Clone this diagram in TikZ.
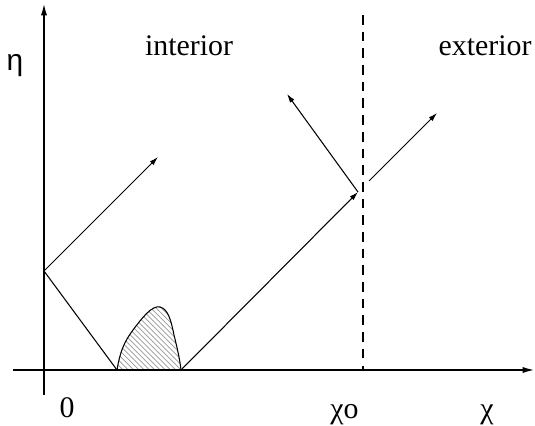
\documentclass[tikz,border=0pt]{standalone}
\usepackage{fontspec}
\setmainfont{Liberation Serif}
\newfontfamily\greekfont{Liberation Sans}
\usetikzlibrary{arrows.meta, patterns}
\tikzset{
  axis/.style={line width=1.1pt, -{Latex[length=7pt,width=3.5pt]}},
  ray/.style={line width=0.6pt, -{Latex[length=5pt,width=3pt]}},
  leg/.style={line width=0.6pt},
  border/.style={line width=1.1pt, dash pattern=on 5.5pt off 4pt},
  bump/.style={line width=0.6pt, pattern=north west lines, pattern color=gray!80},
  lbl/.style={font=\fontsize{17}{20}\selectfont, anchor=base, inner sep=0pt},
}

\begin{document}
\begin{tikzpicture}[x=0.02cm, y=-0.02cm]
  \useasboundingbox (0,0) rectangle (535,426);
  \coordinate (xstart) at (13,370);
  \coordinate (xend)   at (535,370);
  \coordinate (ystart) at (44,395);
  \coordinate (yend)   at (44,3);
  \coordinate (wall)   at (44,271);
  \coordinate (foot)   at (117,370);
  \coordinate (heel)   at (181,370);
  \coordinate (hit)    at (358,192);
  \coordinate (out)    at (369,181);
  \coordinate (btop)   at (363,15);
  \coordinate (bbot)   at (363,370);
  \coordinate (up1)    at (158,157);
  \coordinate (back)   at (287,94);
  \coordinate (up2)    at (437,113);

  \node[lbl] (eta)      at (15,71)   {\greekfont η};
  \node[lbl] (interior) at (189,55)  {interior};
  \node[lbl] (exterior) at (485,55)  {exterior};
  \node[lbl] (zero)     at (67,417)  {0};
  \node[lbl, anchor=base west] (chio) at (330,418) {χo};
  \node[lbl] (chi)      at (487,418) {χ};

  \draw[bump] (foot) .. controls (120,352) and (124,342) .. (133,330)
    .. controls (142,318) and (152,305) .. (160,307)
    .. controls (168,309) and (171,320) .. (174,335)
    .. controls (177,347) and (180,360) .. (heel) -- cycle;

  \draw[axis] (xstart) -- (xend);
  \draw[axis] (ystart) -- (yend);
  \draw[border] (btop) -- (bbot);

  \draw[ray] (wall) -- (up1);
  \draw[leg] (wall) -- (foot);
  \draw[ray] (heel) -- (hit);
  \draw[ray] (hit) -- (back);
  \draw[ray] (out) -- (up2);
\end{tikzpicture}
\end{document}
